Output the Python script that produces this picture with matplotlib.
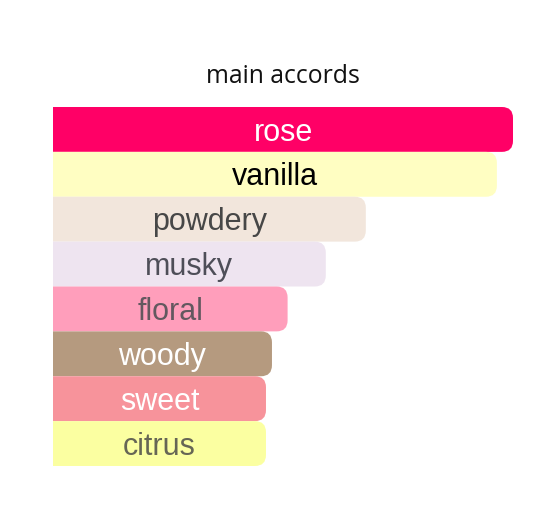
import matplotlib
matplotlib.use('Agg')
import matplotlib.pyplot as plt
from matplotlib.path import Path
from matplotlib.patches import PathPatch

accords = ['rose', 'vanilla', 'powdery', 'musky', 'floral', 'woody', 'sweet', 'citrus']
strength = [100, 96.5, 68, 59.3, 51, 47.6, 46.3, 46.3]
bar_colors = ['#FF0066', '#FFFEC2', '#F2E6DC', '#EEE4F0', '#FF9EBB', '#B59A7F', '#F7939B', '#FBFFA1']
text_colors = ['#FFFFFF', '#000000', '#474747', '#4E4E58', '#63585F', '#FFFFFF', '#FFFFFF', '#666655']

W, H = 555, 527
fig = plt.figure(figsize=(W / 100, H / 100), dpi=100)

# axes placed in pixels: bars start at x=53, full bar ends at x=513, rows 107..466
left, right, top, bottom = 53, 513, 107, 466
ax = fig.add_axes([left / W, (H - bottom) / H, (right - left) / W, (bottom - top) / H])
ax.set_xlim(0, 100)
ax.set_ylim(len(accords) - 0.5, -0.5)
ax.axis('off')

px_x = (right - left) / 100.0
px_y = (bottom - top) / len(accords)
r_px = 11
rx, ry = r_px / px_x, r_px / px_y

for i, (name, v) in enumerate(zip(accords, strength)):
    y0, y1 = i - 0.5, i + 0.5
    verts = [(0, y0), (v - rx, y0), (v, y0), (v, y0 + ry),
             (v, y1 - ry), (v, y1), (v - rx, y1), (0, y1), (0, y0)]
    codes = [Path.MOVETO, Path.LINETO, Path.CURVE3, Path.CURVE3,
             Path.LINETO, Path.CURVE3, Path.CURVE3, Path.LINETO, Path.CLOSEPOLY]
    ax.add_patch(PathPatch(Path(verts, codes), facecolor=bar_colors[i], edgecolor='none'))
    ax.text(v / 2, i + 0.07, name, ha='center', va='center', fontsize=22,
            color=text_colors[i], family='Liberation Sans')

fig.text(283 / W, 1 - 76 / H, 'main accords', ha='center', va='center',
         fontsize=17.8, color='#111111', family='Open Sans')

fig.savefig('out.png', dpi=100, facecolor='white')
